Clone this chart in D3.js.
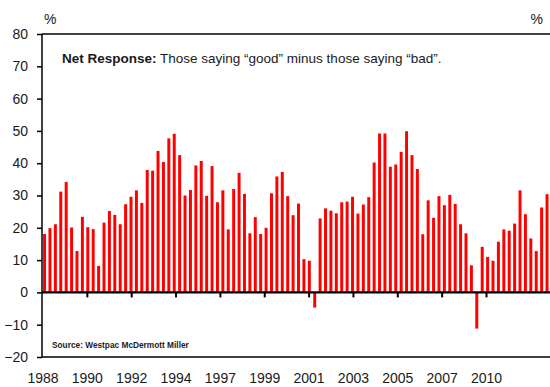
<!DOCTYPE html>
<meta charset="utf-8">
<style>
body { margin: 0; background: #fff; }
text { font-family: "Liberation Sans", Arial, sans-serif; fill: #1a1a1a; }
.axis text { font-size: 14px; }
.note { font-size: 13.5px; }
.source { font-size: 8.3px; font-weight: bold; }
</style>
<svg width="550" height="387"></svg>
<script src="https://cdn.jsdelivr.net/npm/d3@7"></script>
<script>

// quarterly net response, 1988 onwards
var values = [
  18.1, 19.9, 21.1, 31.2, 34.2, 20.1, 12.8, 23.4, 20.2, 19.6,
  8.2, 21.6, 25.2, 24.0, 21.1, 27.3, 29.6, 31.6, 27.7, 37.9,
  37.7, 43.8, 40.4, 47.7, 49.1, 42.5, 30.0, 31.7, 39.3, 40.7,
  29.9, 39.1, 27.9, 31.6, 19.5, 32.0, 37.0, 30.5, 18.3, 23.3,
  18.1, 20.0, 30.7, 35.9, 37.3, 29.8, 23.9, 27.5, 10.3, 9.8,
  -4.7, 22.9, 26.0, 25.3, 24.5, 27.9, 28.1, 29.6, 24.4, 27.2,
  29.5, 40.2, 49.2, 49.2, 38.9, 39.6, 43.5, 49.9, 42.5, 38.2,
  18.0, 28.5, 23.1, 29.8, 27.0, 30.2, 27.4, 21.1, 18.3, 8.4,
  -11.2, 14.1, 11.0, 9.8, 15.7, 19.5, 19.1, 21.3, 31.6, 24.2,
  16.7, 12.8, 26.3, 30.4
];

var yearLabels = ["1988", "1990", "1992", "1994", "1997", "1999", "2001", "2003", "2005", "2007", "2010"];
var yTicks = [-20, -10, 0, 10, 20, 30, 40, 50, 60, 70, 80];

var svg = d3.select("svg"),
    left = 42,
    right = 550;

var y = d3.scaleLinear()
    .domain([-20, 80])
    .range([357, 34]);

var x = d3.scaleBand()
    .domain(d3.range(values.length))
    .range([left, 549.6])
    .paddingInner(0.45)
    .paddingOuter(0.2);

var xYear = d3.scalePoint()
    .domain(yearLabels)
    .range([left + 1, 486.5]);

// bars
svg.append("g")
  .selectAll("rect")
  .data(values)
  .enter().append("rect")
    .attr("x", function(d, i) { return x(i); })
    .attr("width", x.bandwidth())
    .attr("y", function(d) { return y(Math.max(0, d)); })
    .attr("height", function(d) { return Math.abs(y(d) - y(0)); })
    .attr("fill", "#ff0000");

// y axis
var yAxis = svg.append("g")
    .attr("class", "axis")
    .attr("transform", "translate(" + left + ",0)")
    .call(d3.axisLeft(y).tickValues(yTicks).tickSize(5).tickPadding(9));
yAxis.select(".domain").remove();
yAxis.selectAll("line").attr("stroke", "#000").attr("stroke-width", 1.5);
yAxis.selectAll("text").attr("fill", "#1a1a1a");

// frame lines
svg.append("line")
    .attr("x1", left).attr("x2", left)
    .attr("y1", y(80)).attr("y2", y(-20))
    .attr("stroke", "#000").attr("stroke-width", 1.5);
svg.append("line")
    .attr("x1", left).attr("x2", right)
    .attr("y1", y(80)).attr("y2", y(80))
    .attr("stroke", "#000").attr("stroke-width", 1.5);
svg.append("line")
    .attr("x1", left).attr("x2", right)
    .attr("y1", y(-20)).attr("y2", y(-20))
    .attr("stroke", "#000").attr("stroke-width", 1.5);
svg.append("line")
    .attr("x1", left).attr("x2", right)
    .attr("y1", y(0)).attr("y2", y(0))
    .attr("stroke", "#000").attr("stroke-width", 2.2);

// year ticks on the zero line
svg.append("g")
  .selectAll("line")
  .data(yearLabels.slice(1))
  .enter().append("line")
    .attr("x1", function(d) { return xYear(d); })
    .attr("x2", function(d) { return xYear(d); })
    .attr("y1", y(0))
    .attr("y2", y(0) + 5)
    .attr("stroke", "#000")
    .attr("stroke-width", 2);

// year labels along the bottom
svg.append("g")
    .attr("class", "axis")
  .selectAll("text")
  .data(yearLabels)
  .enter().append("text")
    .attr("x", function(d) { return xYear(d); })
    .attr("y", 383)
    .attr("text-anchor", "middle")
    .text(function(d) { return d; });

// unit labels
svg.append("text").attr("class", "axis").attr("x", 44).attr("y", 24)
    .style("font-size", "14px").text("%");
svg.append("text").attr("class", "axis").attr("x", 543).attr("y", 24)
    .attr("text-anchor", "end").style("font-size", "14px").text("%");

// note
var note = svg.append("text")
    .attr("class", "note")
    .attr("x", 62)
    .attr("y", 63);
note.append("tspan").attr("font-weight", "bold").text("Net Response:");
note.append("tspan").text(" Those saying \u201cgood\u201d minus those saying \u201cbad\u201d.");

svg.append("text")
    .attr("class", "source")
    .attr("x", 52)
    .attr("y", 348)
    .text("Source: Westpac McDermott Miller");

</script>
